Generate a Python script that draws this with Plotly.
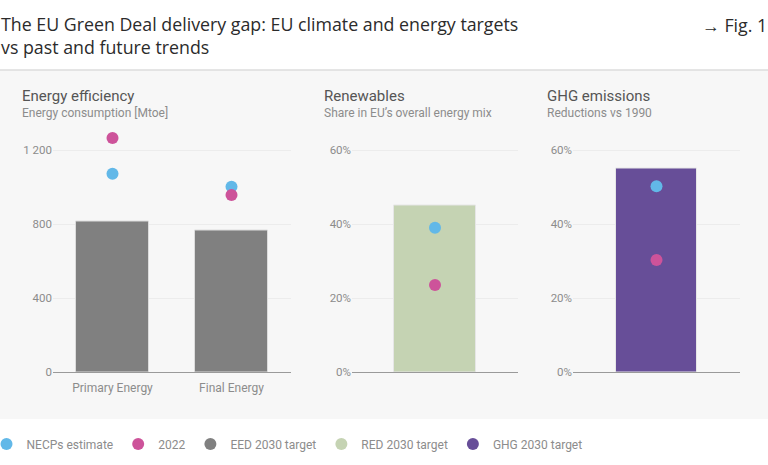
import plotly.graph_objects as go

# data
ee_categories = ["Primary Energy", "Final Energy"]
ee_target = [816, 763]
ee_necp = [1072, 1002]
ee_2022 = [1265, 957]

res_categories = ["Renewables"]
res_target = [45]
res_necp = [39]
res_2022 = [23.5]

ghg_categories = ["GHG"]
ghg_target = [55]
ghg_necp = [50.2]
ghg_2022 = [30.3]

ee_ticks = [0, 400, 800, 1200]
ee_ticktext = ["0", "400", "800", "1 200"]
pct_ticks = [0, 20, 40, 60]
pct_ticktext = ["0%", "20%", "40%", "60%"]

BLUE = "#62b8e8"
PINK = "#cd539a"
GREY = "#808080"
GREEN = "#c5d3b3"
PURPLE = "#674e98"
FONT = "Roboto"

W, H = 768, 465
def px(x):
    return x / W
def py(y):
    return (H - y) / H

fig = go.Figure()

# energy efficiency panel
fig.add_trace(go.Bar(x=ee_categories, y=ee_target, marker=dict(color=GREY, line=dict(width=1, color="#dcdcdc")),
                     width=0.62, showlegend=False, xaxis="x", yaxis="y"))
fig.add_trace(go.Scatter(x=ee_categories, y=ee_necp, mode="markers", marker=dict(size=12, color=BLUE),
                         showlegend=False, xaxis="x", yaxis="y", cliponaxis=False))
fig.add_trace(go.Scatter(x=ee_categories, y=ee_2022, mode="markers", marker=dict(size=12, color=PINK),
                         showlegend=False, xaxis="x", yaxis="y", cliponaxis=False))
# renewables panel
fig.add_trace(go.Bar(x=res_categories, y=res_target, marker=dict(color=GREEN, line=dict(width=1, color="#e6e6e6")),
                     width=0.49, showlegend=False, xaxis="x2", yaxis="y2"))
fig.add_trace(go.Scatter(x=res_categories, y=res_necp, mode="markers", marker=dict(size=12, color=BLUE),
                         showlegend=False, xaxis="x2", yaxis="y2", cliponaxis=False))
fig.add_trace(go.Scatter(x=res_categories, y=res_2022, mode="markers", marker=dict(size=12, color=PINK),
                         showlegend=False, xaxis="x2", yaxis="y2", cliponaxis=False))
# ghg panel
fig.add_trace(go.Bar(x=ghg_categories, y=ghg_target, marker=dict(color=PURPLE, line=dict(width=1, color="#e6e6e6")),
                     width=0.49, showlegend=False, xaxis="x3", yaxis="y3"))
fig.add_trace(go.Scatter(x=ghg_categories, y=ghg_necp, mode="markers", marker=dict(size=12, color=BLUE),
                         showlegend=False, xaxis="x3", yaxis="y3", cliponaxis=False))
fig.add_trace(go.Scatter(x=ghg_categories, y=ghg_2022, mode="markers", marker=dict(size=12, color=PINK),
                         showlegend=False, xaxis="x3", yaxis="y3", cliponaxis=False))

# legend entries (all round dots)
legend_items = [("NECPs estimate", BLUE), ("2022", PINK), ("EED 2030 target", GREY),
                ("RED 2030 target", GREEN), ("GHG 2030 target", PURPLE)]
for name, col in legend_items:
    fig.add_trace(go.Scatter(x=[None], y=[None], mode="markers", name=name,
                             marker=dict(size=12, color=col), xaxis="x", yaxis="y"))

axis_common = dict(showgrid=False, zeroline=False, showline=True, linecolor="#9a9a9a", linewidth=1,
                   ticks="", tickfont=dict(family=FONT, size=12, color="#8c8c8c"), fixedrange=True,
                   automargin=False, ticklabelstandoff=5)
yaxis_common = dict(showgrid=True, gridcolor="#ececec", gridwidth=1, zeroline=False, showline=False,
                    ticks="", tickfont=dict(family=FONT, size=11.5, color="#8c8c8c"), fixedrange=True,
                    automargin=False)

# 1200 (or 60%) sits at y=150 px, 0 at y=372 px; top of range a bit higher so every dot stays in range
ee_top = 1300
pct_top = 65
fig.update_layout(
    width=W, height=H, autosize=False,
    margin=dict(l=0, r=0, t=0, b=0, pad=0, autoexpand=False),
    paper_bgcolor="white", plot_bgcolor="rgba(0,0,0,0)",
    font=dict(family=FONT, color="#333333"),
    xaxis=dict(axis_common, domain=[px(53), px(291)], anchor="y"),
    yaxis=dict(yaxis_common, range=[0, ee_top], tickvals=ee_ticks, ticktext=ee_ticktext, anchor="x",
               domain=[py(372), py(372 - 222 * ee_top / 1200)]),
    xaxis2=dict(axis_common, domain=[px(352), px(518)], anchor="y2", showticklabels=False),
    yaxis2=dict(yaxis_common, range=[0, pct_top], tickvals=pct_ticks, ticktext=pct_ticktext, anchor="x2",
                domain=[py(372), py(372 - 222 * pct_top / 60)]),
    xaxis3=dict(axis_common, domain=[px(573), px(740)], anchor="y3", showticklabels=False),
    yaxis3=dict(yaxis_common, range=[0, pct_top], tickvals=pct_ticks, ticktext=pct_ticktext, anchor="x3",
                domain=[py(372), py(372 - 222 * pct_top / 60)]),
    legend=dict(orientation="h", x=px(287), xanchor="center", y=py(444), yanchor="middle",
                font=dict(family=FONT, size=12, color="#8c8c8c"), itemsizing="constant",
                bgcolor="rgba(0,0,0,0)"),
    bargap=0,
)

# grey band behind the panels
fig.add_shape(type="rect", xref="paper", yref="paper", x0=0, x1=1, y0=py(419), y1=py(70),
              fillcolor="#f7f7f7", line=dict(width=0), layer="below")
fig.add_shape(type="line", xref="paper", yref="paper", x0=0, x1=1, y0=py(70), y1=py(70),
              line=dict(color="#dddddd", width=1.5), layer="below")

# titles
fig.add_annotation(text="The EU Green Deal delivery gap: EU climate and energy targets<br>vs past and future trends",
                   xref="paper", yref="paper", x=0, y=py(36), xanchor="left", yanchor="middle", align="left",
                   showarrow=False, borderpad=0, font=dict(family="Open Sans", size=17.8, color="#2b2b2b"))
fig.add_annotation(text="→ Fig. 1", xref="paper", yref="paper", x=1, y=py(25), xanchor="right", yanchor="middle",
                   showarrow=False, borderpad=0, font=dict(family="Open Sans", size=17.8, color="#2b2b2b"))

panel_titles = [(21, "Energy efficiency", "Energy consumption [Mtoe]"),
                (323, "Renewables", "Share in EU’s overall energy mix"),
                (546, "GHG emissions", "Reductions vs 1990")]
for x0, t, s in panel_titles:
    fig.add_annotation(text=t, xref="paper", yref="paper", x=px(x0), y=py(96), xanchor="left", yanchor="middle",
                       showarrow=False, borderpad=0, font=dict(family=FONT, size=15, color="#555555"))
    fig.add_annotation(text=s, xref="paper", yref="paper", x=px(x0), y=py(113), xanchor="left", yanchor="middle",
                       showarrow=False, borderpad=0, font=dict(family=FONT, size=12, color="#8c8c8c"))

fig.write_html("out.html", config={"displayModeBar": False},
               post_script="document.body.style.margin = '0';")
